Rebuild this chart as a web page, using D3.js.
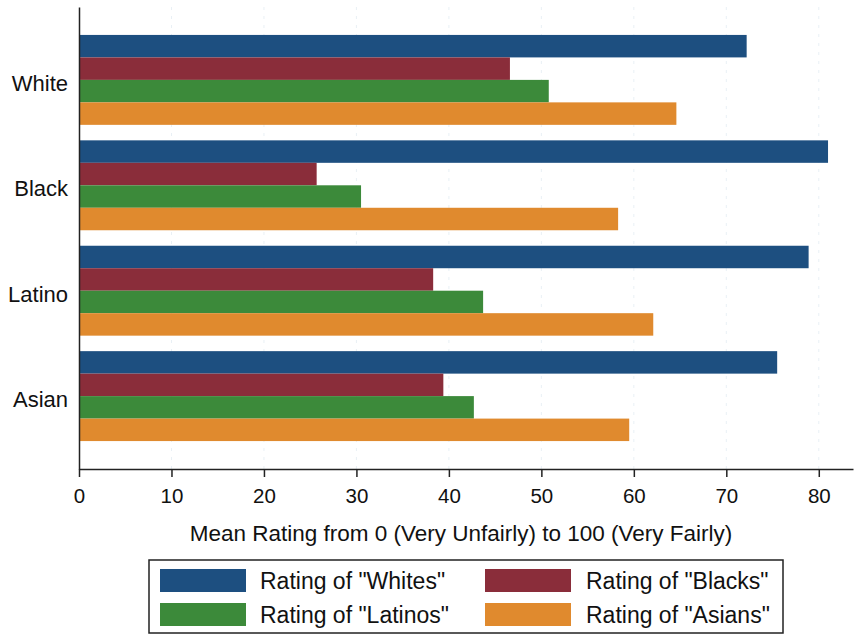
<!DOCTYPE html>
<html>
<head>
<meta charset="utf-8">
<script src="https://cdn.jsdelivr.net/npm/d3@7"></script>
<style>
  html, body { margin: 0; padding: 0; background: #ffffff; }
  svg { display: block; font-family: "Liberation Sans", Arial, sans-serif; }
</style>
</head>
<body>
<svg id="chart" width="865" height="636"></svg>
<script>
// ---- data ----
const groups = ["White", "Black", "Latino", "Asian"];
const seriesNames = ['Rating of "Whites"', 'Rating of "Blacks"', 'Rating of "Latinos"', 'Rating of "Asians"'];
const ratingWhites  = [72.2, 81.0, 78.9, 75.5];
const ratingBlacks  = [46.6, 25.7, 38.3, 39.4];
const ratingLatinos = [50.8, 30.5, 43.7, 42.7];
const ratingAsians  = [64.6, 58.3, 62.1, 59.5];
const xTicks = [0, 10, 20, 30, 40, 50, 60, 70, 80];
const xTitle = "Mean Rating from 0 (Very Unfairly) to 100 (Very Fairly)";

const seriesValues = [ratingWhites, ratingBlacks, ratingLatinos, ratingAsians];
const colors = ["#1d4f80", "#8a2d3a", "#3c8a3a", "#e08a2e"];

const svg = d3.select("#chart");
const pLeft = 79, pRight = 853, pTop = 7, pBottom = 469;

const x = d3.scaleLinear().domain([0, 83.7]).range([pLeft, pRight]);
const y = d3.scaleBand().domain(groups).range([pTop, pBottom])
  .paddingInner(0.147).paddingOuter(0.265);
const ys = d3.scaleBand().domain(d3.range(seriesNames.length)).range([0, y.bandwidth()]).padding(0);

// faint gridlines
svg.append("g").selectAll("line").data(xTicks.slice(1)).join("line")
  .attr("x1", d => x(d)).attr("x2", d => x(d))
  .attr("y1", pTop).attr("y2", pBottom)
  .attr("stroke", "#e9f0f5").attr("stroke-width", 1).attr("stroke-dasharray", "3,6");

// bars
const gGroups = svg.append("g").selectAll("g").data(groups).join("g")
  .attr("transform", d => `translate(0,${y(d)})`);
gGroups.selectAll("rect")
  .data((g, gi) => seriesValues.map((vals, si) => ({ si, v: vals[gi] })))
  .join("rect")
  .attr("x", x(0))
  .attr("y", d => ys(d.si))
  .attr("width", d => x(d.v) - x(0))
  .attr("height", ys.bandwidth())
  .attr("fill", d => colors[d.si]);

// x axis
const xAxis = d3.axisBottom(x).tickValues(xTicks).tickSize(8).tickSizeOuter(0).tickPadding(11);
const gx = svg.append("g").attr("transform", `translate(0,${pBottom})`).call(xAxis);
gx.select(".domain").attr("stroke", "#222").attr("stroke-width", 1.5);
gx.selectAll(".tick line").attr("stroke", "#222").attr("stroke-width", 1.5);
gx.selectAll(".tick text").attr("font-size", 20.5).attr("fill", "#111")
  .attr("font-family", "Liberation Sans, Arial, sans-serif");

// y axis
const yAxis = d3.axisLeft(y).tickSize(0).tickPadding(11).tickSizeOuter(0);
const gy = svg.append("g").attr("transform", `translate(${pLeft},0)`).call(yAxis);
gy.select(".domain").attr("stroke", "#222").attr("stroke-width", 1.5);
gy.selectAll(".tick text").attr("font-size", 22).attr("fill", "#111")
  .attr("dy", "0.5em")
  .attr("font-family", "Liberation Sans, Arial, sans-serif");

// x title
svg.append("text")
  .attr("x", (187 + 735) / 2).attr("y", 541)
  .attr("text-anchor", "middle").attr("font-size", 22.5).attr("fill", "#111")
  .text(xTitle);

// legend
const lg = svg.append("g");
lg.append("rect").attr("x", 149).attr("y", 560).attr("width", 634).attr("height", 73)
  .attr("fill", "#fff").attr("stroke", "#222").attr("stroke-width", 1.5);
const legendPos = [
  { sx: 160, sy: 569, tx: 260 },
  { sx: 485, sy: 569, tx: 586 },
  { sx: 160, sy: 603, tx: 260 },
  { sx: 485, sy: 603, tx: 586 }
];
seriesNames.forEach((name, i) => {
  const p = legendPos[i];
  lg.append("rect").attr("x", p.sx).attr("y", p.sy).attr("width", 86).attr("height", 23)
    .attr("fill", colors[i]);
  lg.append("text").attr("x", p.tx).attr("y", p.sy + 20)
    .attr("font-size", 23).attr("fill", "#111").text(name);
});
</script>
</body>
</html>
